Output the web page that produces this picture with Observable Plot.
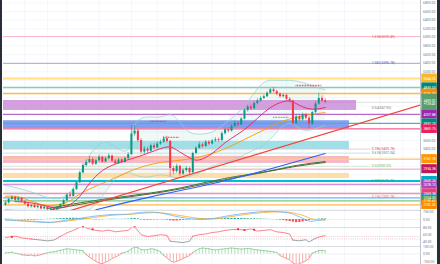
<!DOCTYPE html>
<html><head><meta charset="utf-8">
<script src="https://cdn.jsdelivr.net/npm/d3@7"></script>
<script src="https://cdn.jsdelivr.net/npm/@observablehq/plot@0.6"></script>
<style>
body{margin:0;background:#fff;}
#wrap{position:relative;width:440px;height:264px;box-sizing:border-box;border-left:2px solid #2a2e39;border-right:3px solid #2a2e39;overflow:hidden;background:#fff;}
#wrap svg{display:block;}
</style></head><body><div id="wrap"></div>
<script>
// ---------- DATA ----------
const opens = [2100,2150,2230,2280,2210,2260,2180,2120,2060,2090,
2040,2070,2010,2050,1990,2020,1985,2040,2110,2200,
2330,2300,2460,2620,2850,3020,3090,3160,3050,3130,
3210,3100,3180,3240,3120,3060,3150,3090,3180,3270,
3750,3820,3600,3330,3400,3350,3480,3430,3520,3560,
3640,3580,2950,2880,3000,2820,2900,2950,2850,3300,
3420,3500,3460,3560,3520,3590,3620,3600,3760,3850,
3820,3930,4000,3960,4100,4300,4380,4340,4460,4520,
4580,4620,4700,4780,4740,4680,4620,4650,4560,4520,
4000,4150,4080,4200,4120,3980,4250,4450,4580,4520];
const closes = [2150,2230,2280,2210,2260,2180,2120,2060,2090,2040,
2070,2010,2050,1990,2020,1985,2040,2110,2200,2330,
2300,2460,2620,2850,3020,3090,3160,3050,3130,3210,
3100,3180,3240,3120,3060,3150,3090,3180,3270,3750,
3820,3600,3330,3400,3350,3480,3430,3520,3560,3640,
3580,2950,2880,3000,2820,2900,2950,2850,3300,3420,
3500,3460,3560,3520,3590,3620,3600,3760,3850,3820,
3930,4000,3960,4100,4300,4380,4340,4460,4520,4580,
4620,4700,4780,4740,4680,4620,4650,4560,4520,4000,
4150,4080,4200,4120,3980,4250,4450,4580,4520,4490];
const highs = [2190,2260,2310,2300,2290,2280,2200,2140,2120,2110,
2090,2090,2080,2070,2040,2050,2060,2130,2230,2360,
2400,2490,2660,2890,3060,3150,3230,3200,3170,3260,
3240,3220,3290,3260,3160,3190,3180,3210,3320,3950,
3940,3860,3640,3460,3450,3520,3530,3570,3610,3690,
3700,3610,3000,3050,3030,2950,3000,2980,3330,3460,
3560,3540,3600,3600,3630,3670,3660,3800,3890,3900,
3970,4050,4040,4140,4340,4420,4430,4500,4570,4620,
4660,4740,4810,4830,4770,4710,4690,4680,4600,4540,
4200,4190,4240,4230,4160,4280,4500,4700,4640,4570];
const lows = [2070,2120,2200,2180,2180,2160,2100,2030,2030,2020,
2010,1990,1990,1970,1975,1965,1975,2020,2090,2180,
2260,2280,2440,2600,2820,2980,3060,3010,3020,3100,
3070,3080,3150,3090,3030,3040,3060,3070,3160,3260,
3700,3560,3290,3280,3300,3330,3390,3410,3490,3540,
3540,2760,2800,2840,2770,2790,2860,2800,2830,3270,
3400,3420,3440,3480,3500,3560,3560,3580,3730,3780,
3800,3900,3920,3940,4080,4260,4300,4320,4430,4490,
4550,4600,4680,4700,4640,4580,4590,4530,4480,3950,
3960,4040,4050,4080,3880,3960,4230,4420,4480,4460];

// price grid levels and the tick labels the axis shows
const priceGrid = [2000,2200,2400,2600,2800,3000,3200,3400,3600,3800,4000,4200,4400,4600,4800,5000,5200,5400,5600,5800,6000,6200,6400,6600,6800];
const priceTickLabels = [6800,6600,6400,6200,6000,5800,5600,5400,5200,3800,3600,3400];
// time grid (bar index)
const gridIdx = [6,13,19,29,39,47,55,64,71,79,87,97,105,116,123];

// horizontal levels
const levelValues = [6020.49,5396.78,5044.03,4835.03,4695.40,4207.88,3997.75,3869.75,3167.78,2934.38,2660.24,2578.13,2369.38,2264.50,2195.63,2102.00];
const levelHasTag = [false,false,true,true,true,true,true,true,true,true,true,true,true,true,true,true];

// zones (top / bottom / last bar index covered)
const zoneTop = [4532,4061,3580,3230,2835];
const zoneBottom = [4300,3876,3393,3067,2718];
const zoneEnd = [108.7,106.5,106.5,106.5,106.5];

// fibonacci texts
const fibValues = [6020.49,5396.78,4347.95,3400.78,3307.04,3000.33,2671.71,2300.78];
const fibTexts = ["1.618(6020.49)","1.382(5396.78)","0.5(4347.95)","0.786(3400.78)","0.618(3307.04)","0.5(3000.33)","0.382(2671.71)","0.236(2300.78)"];
const fibLineValues = [3400.78,3307.04,3000.33];

// moving averages (sparse readings: bar index, value)
const maPinkIdx = [3,8,13,17,20,23,26,30,35,40,45,50,53,57,60,64,68,72,76,80,84,88,91,95,99];
const maPinkVal = [2180,2150,2070,2040,2110,2300,2600,2900,3080,3200,3330,3450,3380,3200,3150,3300,3550,3750,3980,4250,4450,4520,4420,4330,4370];
const maOrangeIdx = [0,5,13,20,24,33,40,48,56,64,70,76,82,87,94,99];
const maOrangeVal = [2300,2270,2090,2200,2400,2700,2930,3090,3160,3300,3480,3700,3920,4080,4200,4250];
const maGreenIdx = [13,30,50,66,80,90,99];
const maGreenVal = [2020,2230,2440,2690,2870,3020,3110];
const maBrownIdx = [14,30,50,66,80,90,99];
const maBrownVal = [1990,2200,2420,2660,2860,3000,3090];
const maBlueIdx = [28,45,66,83,99];
const maBlueVal = [1990,2290,2630,2960,3300];

// trend line
const trendIdx = [20.1,128.5];
const trendVal = [1973,4428];

// bollinger bands
const bbIdx = [0,6,12,16,20,23,26,30,34,38,40,44,48,52,56,60,64,68,72,76,80,84,88,92,96,99];
const bbUp = [2560,2450,2300,2250,2400,2800,3250,3550,3450,3400,3950,4150,4150,4180,3850,3750,3800,4000,4250,4600,4950,5000,5000,4950,4850,4780];
const bbLo = [2000,1960,1950,1950,1930,1950,2000,2300,2700,2850,2800,2750,2800,2750,2750,2850,3000,3100,3200,3350,3500,3800,4000,3850,3880,3950];

// dotted signal levels
const sigStart = [90,45,49,83];
const sigEnd = [98,50,54,88];
const sigVal = [4881,4044,3672,4137];
const sigUp = [false,false,false,true];

// MACD pane
const macdIdx = [0,8,14,18,22,26,30,34,38,40,44,48,52,56,60,64,68,72,76,80,84,88,90,92,94,96,99];
const macdVal = [-50,-200,-280,-100,50,250,400,480,500,600,700,620,350,120,0,80,300,500,650,750,740,600,380,120,-150,-120,0];
const signalVal = [-20,-150,-250,-180,-40,120,300,420,480,520,620,640,480,280,100,50,180,380,540,660,720,680,560,400,150,0,-60];
const macdHist = [30,30,20,-20,-30,-40,-50,-60,-50,
-60,-40,-30,-10,
20,30,40,60,80,90,100,110,120,110,100,90,
60,30,-20,-40,-30,-20,10,20,30,20,10,
20,30,40,
80,100,60,-40,-60,-70,-50,-40,-30,-20,
-30,-60,-120,-150,-140,-110,-80,-50,-30,
20,40,60,70,60,50,40,
50,60,70,80,90,100,110,100,90,80,70,60,60,50,40,30,20,10,-10,-30,
-60,-100,-150,-200,-250,-300,-280,-230,-170,-100,
-40,10,40,60,50];
const macdTicks = [750,0];

// RSI pane
const rsiIdx = [0,3,5,8,11,13,15,17,19,21,23,24,26,28,30,32,34,36,38,39,40,42,44,46,48,50,51,53,55,57,58,60,62,64,66,68,70,72,74,76,78,80,82,84,86,88,89,91,93,94,96,98,99];
const rsiVal = [52,56,51,48,45,43,45,55,65,72,80,82,76,72,70,73,68,70,72,80,82,60,55,57,60,58,42,40,38,42,56,60,62,66,68,72,74,75,73,76,70,72,74,68,66,62,45,43,46,40,50,56,57];
const rsiMarkIdx = [2,24,27,40,72,74,77];
const rsiMarkVal = [54,81,75,81,75,73,74];
const rsiBands = [55,48];
const rsiTicks = [80,60,40];

// momentum histogram pane
const momHist = [15,20,25,10,5,-10,-15,-20,-15,
-25,-20,-10,5,
15,25,30,40,50,60,70,65,60,55,50,45,
-10,-40,-70,-100,-120,-130,-110,-90,-60,-40,-20,
10,20,40,
70,90,85,60,55,60,70,65,50,30,
-20,-50,-90,-110,-100,-80,-60,-40,-20,
20,50,70,80,75,70,60,
55,60,65,70,75,80,75,70,65,70,75,70,60,55,50,45,40,35,30,20,
-20,-40,-60,-80,-120,-140,-130,-110,-90,-60,
10,30,45,50,40];
const momTicks = [100,0,-100];

// ---------- STYLE ----------
const FONT = "Roboto, 'DejaVu Sans', sans-serif";
const W = 435, ML = 1, MR = 17;
const xDomain = [-0.6, 128.5];
const tagX1 = 128.9, tagX2 = 133.7, tagXc = 131.3;
const UP = "#089981", DOWN = "#f23645";
const levelStroke = ["#f8bbd0","#9fa8da","#ffe082","#80cbc4","#ffb74d","#ba68c8","#4db6ac","#f06292","#ffcc80","#f8bbd0","#00bcd4","#ce93d8","#f48fb1","#64b5f6","#81c784","#ffb74d"];
const levelWidth = [1,1,2,1.5,1.5,1.3,1.3,1.3,1.5,1.5,2,1.5,1.5,1.3,1.3,1.3];
const levelTag = ["","","#f9b826","#00897b","#fb8c00","#9c27b0","#00897b","#e91e63","#ff9800","#c2185b","#00acc1","#ab47bc","#ec407a","#1e88e5","#43a047","#fb8c00"];
const zoneFill = ["#cf95da","#7594f2","#95dbe6","#f6b0bf","#ffd8a3"];
const fibColors = ["#ef5350","#5c6bc0","#787b86","#ec407a","#26a69a","#66bb6a","#43a047","#e57373"];
const fibLineColors = ["#f8bbd0","#b2dfdb","#c8e6c9"];

// ---------- BUILD ----------
const N = closes.length;
const bars = closes.map((c, i) => ({i, o: opens[i], h: highs[i], l: lows[i], c}));
const pts = (idx, val) => idx.map((i, k) => ({i, v: val[k]}));
const levels = levelValues.map((v, k) => ({v, stroke: levelStroke[k], w: levelWidth[k], tag: levelTag[k], has: levelHasTag[k]}));
const zones = zoneTop.map((t, k) => ({t, b: zoneBottom[k], e: zoneEnd[k], fill: zoneFill[k]}));
const fibs = fibValues.map((v, k) => ({v, t: fibTexts[k], c: fibColors[k]}));
const fibLines = fibLineValues.map((v, k) => ({v, c: fibLineColors[k]}));
const bb = bbIdx.map((i, k) => ({i, up: bbUp[k], lo: bbLo[k]}));
const sigs = sigVal.map((v, k) => ({v, a: sigStart[k], b: sigEnd[k], c: sigUp[k] ? "#4caf50" : "#f23645"}));
const tags = levels.filter(d => d.has);
const last = closes[N - 1];
const PH = 105; // half label height in price units

const common = {width: W, marginLeft: ML, marginRight: MR, marginTop: 0, marginBottom: 0,
  x: {domain: xDomain, axis: null}, color: {type: "identity"},
  style: {fontFamily: FONT, fontSize: "4px", background: "transparent", overflow: "visible"}};

const axisOpts = (ticks) => Plot.axisY(ticks, {anchor: "right", tickSize: 0, tickPadding: 2.5, tickFormat: d => d.toFixed(2), fontSize: 3.4, color: "#787b86", label: null});

const main = Plot.plot({...common, height: 210,
  y: {domain: [1973, 6858], axis: null},
  marks: [
    Plot.ruleY(priceGrid, {stroke: "#f0f3fa", strokeWidth: 0.7}),
    Plot.ruleX(gridIdx, {stroke: "#f0f3fa", strokeWidth: 0.7}),
    Plot.areaY(bb, {x: "i", y1: "lo", y2: "up", fill: "#26a69a", fillOpacity: 0.07, curve: "natural", clip: true}),
    Plot.rect(zones, {x1: xDomain[0], x2: "e", y1: "b", y2: "t", fill: "fill", fillOpacity: 0.9}),
    Plot.ruleY(levels, {y: "v", stroke: "stroke", strokeWidth: "w"}),
    Plot.ruleY(fibLines, {y: "v", x1: xDomain[0], x2: 113, stroke: "c", strokeWidth: 0.8}),
    Plot.text(fibs, {x: 113.4, y: "v", text: "t", fill: "c", textAnchor: "start", fontSize: 3.4}),
    Plot.line(bb, {x: "i", y: "up", stroke: "#8fd3cc", strokeWidth: 0.7, curve: "natural", clip: true}),
    Plot.line(bb, {x: "i", y: "lo", stroke: "#8fd3cc", strokeWidth: 0.7, curve: "natural", clip: true}),
    Plot.line(pts(maBrownIdx, maBrownVal), {x: "i", y: "v", stroke: "#6d5c3d", strokeWidth: 1, curve: "natural", clip: true}),
    Plot.line(pts(maGreenIdx, maGreenVal), {x: "i", y: "v", stroke: "#2e7d32", strokeWidth: 1, curve: "natural", clip: true}),
    Plot.line(pts(maBlueIdx, maBlueVal), {x: "i", y: "v", stroke: "#2962ff", strokeWidth: 1.1, curve: "natural", clip: true}),
    Plot.line(pts(maOrangeIdx, maOrangeVal), {x: "i", y: "v", stroke: "#ff9800", strokeWidth: 0.9, curve: "natural", clip: true}),
    Plot.line(pts(maPinkIdx, maPinkVal), {x: "i", y: "v", stroke: "#e91e63", strokeWidth: 0.9, curve: "natural", clip: true}),
    Plot.line(pts(trendIdx, trendVal), {x: "i", y: "v", stroke: "#f44336", strokeWidth: 1.3, clip: true}),
    Plot.ruleY(sigs, {y: "v", x1: "a", x2: "b", stroke: "c", strokeWidth: 1.3, strokeDasharray: "0.8,0.8"}),
    Plot.ruleX(bars, {x: "i", y1: "l", y2: "h", stroke: d => d.c >= d.o ? UP : DOWN, strokeWidth: 0.6}),
    Plot.ruleX(bars, {x: "i", y1: "o", y2: "c", stroke: d => d.c >= d.o ? UP : DOWN, strokeWidth: 2}),
    Plot.ruleY([last], {x1: N - 1, x2: xDomain[1], stroke: "#9598a1", strokeWidth: 0.6, strokeDasharray: "1,1"}),
    Plot.frame({anchor: "right", stroke: "#b2b5be", strokeWidth: 0.8}),
    axisOpts(priceTickLabels),
    Plot.rect(tags, {x1: tagX1, x2: tagX2, y1: d => d.v - PH, y2: d => d.v + PH, fill: "tag"}),
    Plot.text(tags, {x: tagXc, y: "v", text: d => d.v.toFixed(2), fill: "white", fontSize: 3.4}),
    Plot.rect([last], {x1: tagX1, x2: tagX2, y1: d => d - 190, y2: d => d + 190, fill: "#5b9e6d"}),
    Plot.text([last], {x: tagXc, y: d => d, text: d => d.toFixed(2) + "\n+138.40", fill: "white", fontSize: 3.2, lineHeight: 1.1})
  ]});

const paneA = Plot.plot({...common, height: 17,
  y: {domain: [-755, 850], axis: null},
  marks: [
    Plot.ruleX(gridIdx, {stroke: "#f0f3fa", strokeWidth: 0.7}),
    Plot.ruleY([0], {stroke: "#e0e3eb", strokeWidth: 0.5}),
    Plot.ruleX(macdHist, {x: (d, i) => i, y1: 0, y2: d => d, stroke: d => d >= 0 ? "#26a69a" : "#ff5252", strokeWidth: 2.2}),
    Plot.line(pts(macdIdx, signalVal), {x: "i", y: "v", stroke: "#ffa726", strokeWidth: 0.8, curve: "natural", clip: true}),
    Plot.line(pts(macdIdx, macdVal), {x: "i", y: "v", stroke: "#64b5f6", strokeWidth: 0.8, curve: "natural", clip: true}),
    Plot.frame({anchor: "top", stroke: "#d1d4dc", strokeWidth: 0.8}),
    Plot.frame({anchor: "right", stroke: "#b2b5be", strokeWidth: 0.8}),
    axisOpts(macdTicks)
  ]});

const paneB = Plot.plot({...common, height: 19,
  y: {domain: [27.2, 80], axis: null},
  marks: [
    Plot.ruleX(gridIdx, {stroke: "#f0f3fa", strokeWidth: 0.7}),
    Plot.ruleY(rsiBands, {stroke: (d, i) => i === 0 ? "#f7a1a8" : "#b2b5be", strokeWidth: 0.6, strokeDasharray: "1,1.2"}),
    Plot.line(pts(rsiIdx, rsiVal), {x: "i", y: "v", z: null, stroke: d => d.v >= 50 ? "#f7525f" : "#787b86", strokeWidth: 0.7, clip: true}),
    Plot.dot(pts(rsiMarkIdx, rsiMarkVal), {x: "i", y: "v", symbol: "square", r: 1.1, fill: "#f23645"}),
    Plot.frame({anchor: "top", stroke: "#d1d4dc", strokeWidth: 0.8}),
    Plot.frame({anchor: "right", stroke: "#b2b5be", strokeWidth: 0.8}),
    axisOpts(rsiTicks)
  ]});

const paneC = Plot.plot({...common, height: 18,
  y: {domain: [-140, 100], axis: null},
  marks: [
    Plot.ruleX(gridIdx, {stroke: "#f0f3fa", strokeWidth: 0.7}),
    Plot.ruleY([0], {stroke: "#e0e3eb", strokeWidth: 0.5}),
    Plot.ruleX(momHist, {x: (d, i) => i, y1: 0, y2: d => d, stroke: d => d >= 0 ? "#8fd19e" : "#f48a8a", strokeWidth: 0.7}),
    Plot.line(momHist.map((v, i) => ({i, v})), {x: "i", y: "v", z: null, stroke: d => d.v >= 0 ? "#66bb6a" : "#ef5350", strokeWidth: 0.6, clip: true}),
    Plot.frame({anchor: "top", stroke: "#d1d4dc", strokeWidth: 0.8}),
    Plot.frame({anchor: "right", stroke: "#b2b5be", strokeWidth: 0.8}),
    axisOpts(momTicks)
  ]});

const wrap = document.getElementById("wrap");
[main, paneA, paneB, paneC].forEach(p => wrap.appendChild(p));
</script>
</body></html>
